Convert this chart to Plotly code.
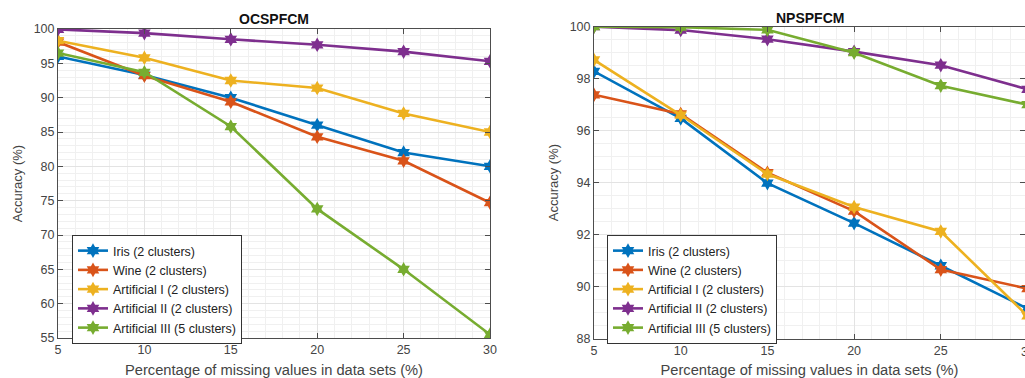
import plotly.graph_objects as go

missing = [5, 10, 15, 20, 25, 30]
series_names = ["Iris (2 clusters)", "Wine (2 clusters)", "Artificial I (2 clusters)",
                "Artificial II (2 clusters)", "Artificial III (5 clusters)"]
colors = ["#0072BD", "#D95319", "#EDB120", "#7E2F8E", "#77AC30"]

ocs_iris = [96.0, 93.3, 90.0, 86.0, 82.0, 80.0]
ocs_wine = [98.1, 93.2, 89.4, 84.3, 80.8, 74.7]
ocs_art1 = [98.3, 95.8, 92.5, 91.4, 87.7, 85.0]
ocs_art2 = [99.95, 99.4, 98.5, 97.7, 96.7, 95.3]
ocs_art3 = [96.5, 93.7, 85.8, 73.8, 65.0, 55.5]

nps_iris = [98.28, 96.47, 93.98, 92.44, 90.8, 89.15]
nps_wine = [97.38, 96.64, 94.38, 92.9, 90.65, 89.92]
nps_art1 = [98.72, 96.6, 94.33, 93.06, 92.12, 88.87]
nps_art2 = [100.0, 99.87, 99.52, 99.04, 98.52, 97.59]
nps_art3 = [100.0, 99.98, 99.88, 99.0, 97.73, 97.0]

ocs = [ocs_iris, ocs_wine, ocs_art1, ocs_art2, ocs_art3]
nps = [nps_iris, nps_wine, nps_art1, nps_art2, nps_art3]

W, H = 1025, 378
fig = go.Figure()

for i, (name, ys) in enumerate(zip(series_names, ocs)):
    fig.add_trace(go.Scatter(x=missing, y=ys, name=name, mode="lines+markers",
                             line=dict(color=colors[i], width=2.6),
                             marker=dict(symbol="hexagram", size=11, color=colors[i]),
                             xaxis="x", yaxis="y", legend="legend"))
for i, (name, ys) in enumerate(zip(series_names, nps)):
    fig.add_trace(go.Scatter(x=missing, y=ys, name=name, mode="lines+markers",
                             line=dict(color=colors[i], width=2.6),
                             marker=dict(symbol="hexagram", size=11, color=colors[i]),
                             xaxis="x2", yaxis="y2", legend="legend2"))

axcol = "#4d4d4d"
FONT = "Liberation Sans, Arial, sans-serif"
tickfont = dict(family=FONT, size=12.5, color="#444444")
grid = "#e3e3e3"
mgrid = "#f0f0f0"

def xax(domain, rng, anchor):
    return dict(domain=domain, range=rng, anchor=anchor, tickvals=missing,
                ticks="inside", ticklen=5, tickcolor=axcol, showline=True, linecolor=axcol,
                linewidth=1, mirror="ticks", showgrid=True, gridcolor=grid, gridwidth=1,
                minor=dict(dtick=1, showgrid=True, gridcolor=mgrid, ticks=""),
                tickfont=tickfont, zeroline=False, automargin=False,
                title=dict(text="Percentage of missing values in data sets (%)",
                           font=dict(family=FONT, size=14.7, color="#444444"),
                           standoff=10))

def yax(domain, rng, dtick, mdtick, anchor):
    return dict(domain=domain, range=rng, anchor=anchor, dtick=dtick,
                ticks="inside", ticklen=5, tickcolor=axcol, showline=True, linecolor=axcol,
                linewidth=1, mirror="ticks", showgrid=True, gridcolor=grid, gridwidth=1,
                minor=dict(dtick=mdtick, showgrid=True, gridcolor=mgrid, ticks=""),
                tickfont=tickfont, zeroline=False, automargin=False,
                title=dict(text="Accuracy (%)",
                           font=dict(family=FONT, size=13, color="#444444"),
                           standoff=8))

x1l, x1r = 58 / W, 490 / W
x2l = 594 / W
unit2 = 86.7 / 5
x2max = 5 + (1025 - 594) / unit2

legfont = dict(family=FONT, size=12.5, color="#222222")

fig.update_layout(
    width=W, height=H, margin=dict(l=0, r=0, t=0, b=0, autoexpand=False),
    paper_bgcolor="white", plot_bgcolor="white",
    xaxis=xax([x1l, x1r], [5, 30], "y"),
    yaxis=yax([1 - 338 / H, 1 - 29 / H], [55, 100], 5, 1, "x"),
    xaxis2=xax([x2l, 1.0], [5, x2max], "y2"),
    yaxis2=yax([1 - 338.5 / H, 1 - 26.7 / H], [88, 100], 2, 0.5, "x2"),
    legend=dict(x=72 / W, y=1 - 235 / H, xanchor="left", yanchor="top",
                bgcolor="white", bordercolor="#333333", borderwidth=1,
                font=legfont, tracegroupgap=0, itemwidth=30),
    legend2=dict(x=607 / W, y=1 - 235 / H, xanchor="left", yanchor="top",
                 bgcolor="white", bordercolor="#333333", borderwidth=1,
                 font=legfont, tracegroupgap=0, itemwidth=30),
    annotations=[
        dict(text="<b>OCSPFCM</b>", x=274 / W, y=1 - 19 / H, xref="paper", yref="paper",
             xanchor="center", yanchor="middle",
             showarrow=False, font=dict(family=FONT, size=14, color="#111111")),
        dict(text="<b>NPSPFCM</b>", x=810 / W, y=1 - 18 / H, xref="paper", yref="paper",
             xanchor="center", yanchor="middle",
             showarrow=False, font=dict(family=FONT, size=14, color="#111111")),
        dict(text="30", x=(594 + 25 * unit2) / W, y=1 - 352 / H, xref="paper", yref="paper",
             xanchor="center", yanchor="middle",
             showarrow=False, font=tickfont),
    ],
)

fig.write_html("out.html", config={"displayModeBar": False},
               post_script="document.body.style.margin='0px';")
